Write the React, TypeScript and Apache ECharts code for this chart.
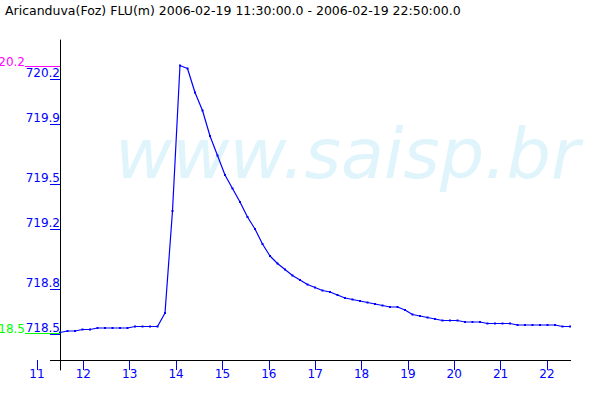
import React, { useEffect, useRef } from "react";
import * as echarts from "echarts";

const chartTitle = "Aricanduva(Foz) FLU(m) 2006-02-19 11:30:00.0 - 2006-02-19 22:50:00.0";
const watermark = "www.saisp.br";

// readings every 10 minutes starting 11:30
const startHour = 11.5;
const stepHours = 1 / 6;
const levels = [
  718.51, 718.52, 718.52, 718.53, 718.53, 718.54, 718.54, 718.54, 718.54, 718.54,
  718.55, 718.55, 718.55, 718.55, 718.64, 719.32, 720.29, 720.27, 720.11, 719.99,
  719.82, 719.69, 719.56, 719.47, 719.38, 719.28, 719.2, 719.1, 719.02, 718.97,
  718.93, 718.89, 718.86, 718.83, 718.81, 718.79, 718.78, 718.76, 718.74, 718.73,
  718.72, 718.71, 718.7, 718.69, 718.68, 718.68, 718.66, 718.63, 718.62, 718.61,
  718.6, 718.59, 718.59, 718.59, 718.58, 718.58, 718.58, 718.57, 718.57, 718.57,
  718.57, 718.56, 718.56, 718.56, 718.56, 718.56, 718.56, 718.55, 718.55,
];
const hourTicks = [11, 12, 13, 14, 15, 16, 17, 18, 19, 20, 21, 22];
const levelTicks = [718.5, 718.8, 719.2, 719.5, 719.9, 720.2];

const FONT = "DejaVu Sans";
const BLUE = "#0000ff";

const trunc1 = (v: number) => (Math.floor(v * 10 + 1e-9) / 10).toFixed(1);

export default function App() {
  const ref = useRef<HTMLDivElement>(null);
  useEffect(() => {
    document.body.style.margin = "0";
    const chart = echarts.init(ref.current!, null, { renderer: "svg" });
    const data = levels.map((v, i) => [startHour + i * stepHours, v]);
    chart.setOption({
      animation: false,
      backgroundColor: "#ffffff",
      textStyle: { fontFamily: FONT },
      grid: { left: 37, right: 29, top: 40, bottom: 30, containLabel: false, outerBoundsMode: "none" },
      xAxis: [
        { type: "value", position: "top", min: 10.989, max: 22.856, show: false },
        {
          type: "value",
          position: "bottom",
          min: 11,
          max: 22.518,
          axisLine: { show: false, onZero: false },
          splitLine: { show: false },
          axisTick: { show: true, inside: true, length: 10, lineStyle: { color: BLUE, width: 1 }, customValues: hourTicks },
          axisLabel: { customValues: hourTicks, color: BLUE, fontSize: 12, fontFamily: FONT, margin: -2, formatter: (v: number) => String(v) },
        },
      ],
      yAxis: {
        type: "value",
        min: 718.26,
        max: 720.46,
        offset: -23,
        axisLine: { show: true, onZero: false, lineStyle: { color: "#000000", width: 1 } },
        axisTick: { show: true, length: 10, lineStyle: { color: BLUE, width: 1 }, customValues: levelTicks },
        axisLabel: {
          customValues: levelTicks,
          color: BLUE,
          fontSize: 12,
          fontFamily: FONT,
          margin: 0,
          verticalAlign: "bottom",
          formatter: (v: number) => v.toFixed(1),
        },
        splitLine: { show: false },
      },
      series: [
        {
          type: "line",
          xAxisIndex: 0,
          yAxisIndex: 0,
          data,
          symbol: "rect",
          symbolSize: 2,
          showSymbol: true,
          itemStyle: { color: BLUE },
          lineStyle: { color: BLUE, width: 1.2 },
          z: 5,
        },
      ],
    });

    const maxV = Math.max(...levels);
    const minV = Math.min(...levels);
    const yMax = chart.convertToPixel({ yAxisIndex: 0 }, maxV) as number;
    const yMin = chart.convertToPixel({ yAxisIndex: 0 }, minV) as number;
    const font12 = `12px "${FONT}"`;

    chart.setOption({
      graphic: [
        {
          type: "text",
          z: 0,
          silent: true,
          x: 115,
          y: 154,
          style: { text: watermark, font: `italic 70px "${FONT}"`, fill: "#e0f4fc", verticalAlign: "middle" },
        },
        {
          type: "text",
          z: 10,
          x: 5,
          y: 4,
          style: { text: chartTitle, font: `12.5px "${FONT}"`, fill: "#000000", verticalAlign: "top" },
        },
        {
          type: "line",
          z: 10,
          shape: { x1: 50, y1: 360.5, x2: 571, y2: 360.5 },
          style: { stroke: "#000000", lineWidth: 1 },
        },
        {
          type: "line",
          z: 10,
          shape: { x1: 25, y1: Math.round(yMax) + 0.5, x2: 60, y2: Math.round(yMax) + 0.5 },
          style: { stroke: "#ff00ff", lineWidth: 1 },
        },
        {
          type: "text",
          z: 10,
          x: 25,
          y: Math.round(yMax) + 2,
          style: { text: trunc1(maxV), font: font12, fill: "#ff00ff", align: "right", verticalAlign: "bottom" },
        },
        {
          type: "line",
          z: 10,
          shape: { x1: 25, y1: Math.round(yMin) + 0.5, x2: 60, y2: Math.round(yMin) + 0.5 },
          style: { stroke: "#00ff00", lineWidth: 1 },
        },
        {
          type: "text",
          z: 10,
          x: 25,
          y: Math.round(yMin) + 2,
          style: { text: trunc1(minV), font: font12, fill: "#00ff00", align: "right", verticalAlign: "bottom" },
        },
      ],
    });

    return () => chart.dispose();
  }, []);
  return <div ref={ref} style={{ width: 600, height: 400 }} />;
}
